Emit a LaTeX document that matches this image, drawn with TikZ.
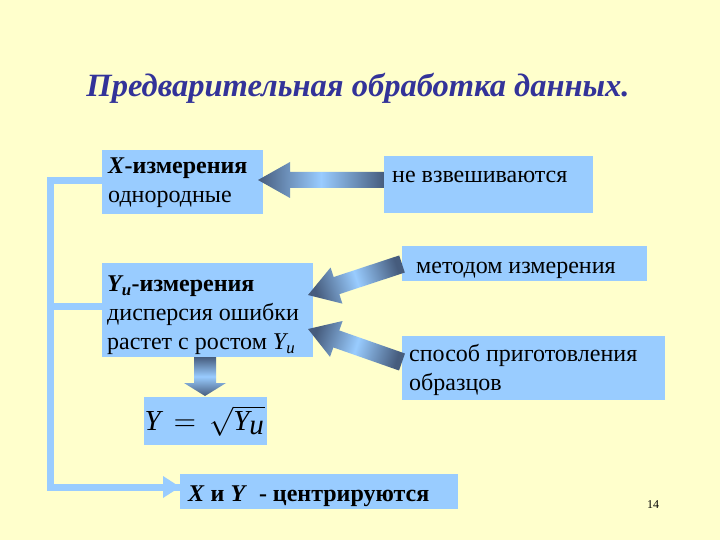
\documentclass[tikz,border=0pt]{standalone}
\usepackage{fontspec}
\setmainfont{Liberation Serif}
\usetikzlibrary{arrows.meta,calc}
\definecolor{bg}{RGB}{255,255,204}
\definecolor{boxblue}{RGB}{153,204,255}
\definecolor{titleblue}{RGB}{51,51,153}
\definecolor{arrdark}{RGB}{70,92,125}
\definecolor{linkblue}{RGB}{153,204,255}
\newcommand{\blockarrow}[6]{%
  % #1 tail, #2 tip, #3 shaft half, #4 head half, #5 head length, #6 shading angle
  \path[left color=arrdark, right color=arrdark, middle color=boxblue, shading angle=#6]
    ($(#1)!#3!90:(#2)$)
    -- ($($(#2)!#5!(#1)$)!#3!-90:(#1)$)
    -- ($($(#2)!#5!(#1)$)!#4!-90:(#1)$)
    -- (#2)
    -- ($($(#2)!#5!(#1)$)!#4!90:(#1)$)
    -- ($($(#2)!#5!(#1)$)!#3!90:(#1)$)
    -- ($(#1)!#3!-90:(#2)$) -- cycle;}
\begin{document}
\begin{tikzpicture}[x=1pt,y=-1pt,
  box/.style={fill=boxblue, draw=none, inner sep=0pt, anchor=north west},
  txt/.style={anchor=north west, inner sep=0pt, align=left,
     font=\fontsize{24}{29}\selectfont},
  conn/.style={draw=linkblue, line width=7pt}
]
\fill[bg] (0,0) rectangle (720,540);
\useasboundingbox (0,0) rectangle (720,540);

\node[font=\fontsize{32.5}{36}\selectfont\bfseries\itshape, text=titleblue] (title) at (358,88)
  {Предварительная обработка данных.};

% boxes
\node[box, minimum width=161pt, minimum height=64pt] (b1) at (102,150) {};
\node[box, minimum width=209pt, minimum height=57pt] (b2) at (384,156) {};
\node[box, minimum width=211pt, minimum height=94pt] (b3) at (102,263) {};
\node[box, minimum width=245pt, minimum height=35pt] (b4) at (402,246) {};
\node[box, minimum width=263pt, minimum height=64pt] (b5) at (402,336) {};
\node[box, minimum width=123pt, minimum height=48pt] (b6) at (144,397) {};
\node[box, minimum width=278pt, minimum height=35pt] (b7) at (180,474) {};

% texts
\node[txt] (t1) at (108,158) {\textbf{\textit{X}-измерения}\\однородные};
\node[txt] (t2) at (392,171) {не взвешиваются};
\node[txt] (t3) at (107,276) {\textbf{\textit{Y\textsubscript{u}}-измерения}\\дисперсия ошибки\\растет с ростом \textit{Y\textsubscript{u}}};
\node[txt] (t4) at (416,262) {методом измерения};
\node[txt] (t5) at (409,344) {способ приготовления\\образцов};
\node[anchor=center, inner sep=0pt, scale=2.9] (t6) at (205,421)
  {$\textit{Y}\,=\,\sqrt{\textit{Y}_{\textit{u}}}$};
\node[txt, font=\fontsize{24}{29}\selectfont\bfseries] (t7) at (188,486) {\textit{X} и \textit{Y}~ - центрируются};
\node[inner sep=0pt, font=\fontsize{12}{14}\selectfont] (pg) at (653,505) {14};

% connectors (light blue lines)
\coordinate (c1) at (50.5,180.5);
\coordinate (c2) at (50.5,487);
\draw[conn] (b1.west |- c1) -- (c1) -- (c2)
  -- ($(b7.west |- c2)$) ;
\fill[linkblue] ($(b7.west |- c2)+(-17,-11)$) coordinate (h1) -- ($(b7.west |- c2)$) -- ($(b7.west |- c2)+(-17,11)$) -- cycle;
\draw[conn] (b3.west |- 0,306) -- (c1 |- 0,306);

% block arrows
\coordinate (a1t) at (b2.west |- 0,180);
\coordinate (a1p) at (258,180);
\blockarrow{a1t}{a1p}{8pt}{18pt}{32pt}{90}

\coordinate (a2t) at (b4.west |- 0,264);
\coordinate (a2p) at (308,295);
\blockarrow{a2t}{a2p}{9pt}{19pt}{30pt}{108}

\coordinate (a3t) at (b5.west |- 0,362);
\coordinate (a3p) at (308,329);
\blockarrow{a3t}{a3p}{9pt}{19pt}{30pt}{72}

\coordinate (a4t) at (205,357);
\coordinate (a4p) at (205,396);
\blockarrow{a4t}{a4p}{11pt}{21pt}{13pt}{0}
\end{tikzpicture}
\end{document}
